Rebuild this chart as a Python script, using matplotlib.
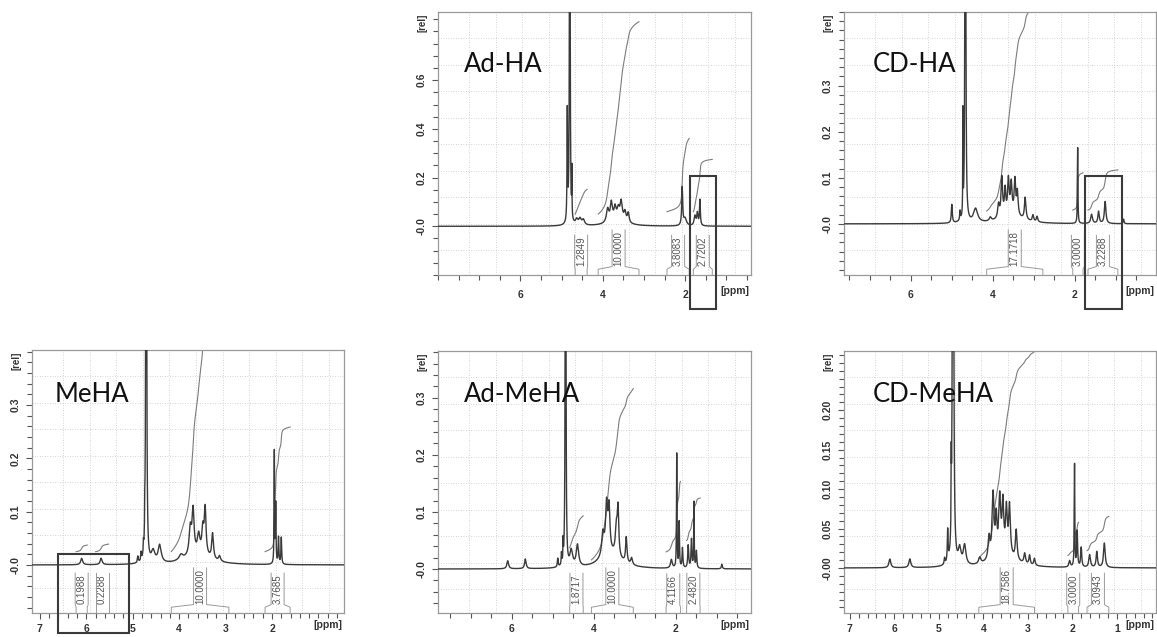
import numpy as np
import matplotlib
matplotlib.use("Agg")
import matplotlib.pyplot as plt
from matplotlib.ticker import FixedLocator, FixedFormatter, MultipleLocator
from matplotlib.patches import Rectangle
import matplotlib.transforms as mtransforms

# ---------------- data ----------------
# Ad-HA
adha_ppm = [4.80, 4.86, 4.75, 4.63, 4.55, 4.47, 3.88, 3.79, 3.70, 3.62, 3.55, 3.46, 3.38, 3.65, 2.07, 2.00, 1.76, 1.70, 1.64]
adha_height = [2.5, 0.45, 0.19, 0.022, 0.025, 0.022, 0.055, 0.075, 0.05, 0.045, 0.075, 0.04, 0.04, 0.022, 0.155, 0.03, 0.04, 0.05, 0.105]
adha_width = [0.008, 0.008, 0.004, 0.035, 0.035, 0.035, 0.035, 0.03, 0.03, 0.035, 0.03, 0.03, 0.025, 0.25, 0.014, 0.04, 0.025, 0.018, 0.012]
adha_int_labels = ["1.2849", "10.0000", "3.8083", "2.7202"]
adha_int_hi = [4.67, 4.11, 2.44, 1.80]
adha_int_lo = [4.38, 3.12, 1.90, 1.34]
adha_int_start = [0.05, 0.05, 0.06, 0.06]
adha_int_scale = 0.079
adha_xticks = [6, 4, 2]
adha_xticklabels = ["6", "4", "2"]
adha_yticks = [0.0, 0.2, 0.4, 0.6]
adha_yticklabels = ["-0.0", "0.2", "0.4", "0.6"]
adha_box = [1.88, 1.25, 0.205, -0.34]

# CD-HA
cdha_ppm = [5.00, 4.80, 4.73, 4.67, 4.42, 4.06, 3.86, 3.78, 3.70, 3.62, 3.55, 3.46, 3.40, 3.21, 3.02, 2.92, 3.55, 1.93, 1.59, 1.42, 1.26, 0.81]
cdha_height = [0.04, 0.02, 0.22, 2.0, 0.03, 0.008, 0.03, 0.085, 0.055, 0.075, 0.065, 0.075, 0.05, 0.048, 0.014, 0.012, 0.018, 0.165, 0.02, 0.026, 0.048, 0.01]
cdha_width = [0.014, 0.01, 0.004, 0.008, 0.06, 0.03, 0.025, 0.022, 0.02, 0.022, 0.022, 0.022, 0.02, 0.022, 0.02, 0.02, 0.3, 0.007, 0.025, 0.02, 0.022, 0.012]
cdha_int_labels = ["17.1718", "3.0000", "3.2288"]
cdha_int_hi = [4.15, 2.05, 1.68]
cdha_int_lo = [2.78, 1.80, 0.95]
cdha_int_start = [0.028, 0.03, 0.03]
cdha_int_scale = 0.027
cdha_xticks = [6, 4, 2]
cdha_xticklabels = ["6", "4", "2"]
cdha_yticks = [0.0, 0.1, 0.2, 0.3]
cdha_yticklabels = ["-0.0", "0.1", "0.2", "0.3"]
cdha_box = [1.76, 0.85, 0.104, -0.185]

# MeHA
meha_ppm = [6.10, 5.68, 4.89, 4.82, 4.77, 4.71, 4.74, 4.56, 4.42, 3.96, 3.76, 3.70, 3.58, 3.49, 3.44, 3.28, 3.13, 3.60, 1.95, 1.92, 1.86, 1.80]
meha_height = [0.012, 0.012, 0.012, 0.015, 0.02, 2.0, 0.05, 0.022, 0.033, 0.01, 0.05, 0.08, 0.033, 0.045, 0.085, 0.048, 0.01, 0.02, 0.21, 0.11, 0.05, 0.05]
meha_width = [0.025, 0.025, 0.012, 0.008, 0.006, 0.007, 0.004, 0.045, 0.04, 0.05, 0.03, 0.025, 0.03, 0.025, 0.022, 0.022, 0.025, 0.3, 0.006, 0.007, 0.009, 0.009]
meha_int_labels = ["0.1988", "0.2288", "10.0000", "3.7685"]
meha_int_hi = [6.22, 5.80, 4.17, 2.15]
meha_int_lo = [5.98, 5.52, 2.93, 1.61]
meha_int_start = [0.025, 0.025, 0.025, 0.025]
meha_int_scale = 0.062
meha_xticks = [7, 6, 5, 4, 3, 2]
meha_xticklabels = ["7", "6", "5", "4", "3", "2"]
meha_yticks = [0.0, 0.1, 0.2, 0.3]
meha_yticklabels = ["-0.0", "0.1", "0.2", "0.3"]
meha_box = [6.61, 5.07, 0.02, -0.128]

# Ad-MeHA
admeha_ppm = [6.10, 5.67, 4.88, 4.79, 4.69, 4.75, 4.55, 4.40, 3.78, 3.69, 3.63, 3.45, 3.41, 3.21, 3.08, 3.60, 2.11, 1.98, 1.92, 1.84, 1.70, 1.62, 1.56, 1.50, 0.88]
admeha_height = [0.014, 0.017, 0.015, 0.02, 2.0, 0.035, 0.028, 0.038, 0.04, 0.085, 0.075, 0.05, 0.078, 0.045, 0.012, 0.025, 0.015, 0.2, 0.08, 0.035, 0.04, 0.05, 0.115, 0.03, 0.008]
admeha_width = [0.025, 0.022, 0.012, 0.008, 0.006, 0.005, 0.04, 0.035, 0.035, 0.03, 0.025, 0.03, 0.02, 0.02, 0.025, 0.3, 0.025, 0.007, 0.009, 0.012, 0.014, 0.012, 0.007, 0.012, 0.014]
admeha_int_labels = ["1.8717", "10.0000", "4.1166", "2.4820"]
admeha_int_hi = [4.59, 4.06, 2.24, 1.74]
admeha_int_lo = [4.26, 3.04, 1.89, 1.41]
admeha_int_start = [0.037, 0.016, 0.03, 0.05]
admeha_int_scale = 0.03
admeha_xticks = [6, 4, 2]
admeha_xticklabels = ["6", "4", "2"]
admeha_yticks = [0.0, 0.1, 0.2, 0.3]
admeha_yticklabels = ["-0.0", "0.1", "0.2", "0.3"]

# CD-MeHA
cdmeha_ppm = [6.10, 5.65, 4.87, 4.80, 4.72, 4.68, 4.53, 4.42, 4.08, 3.87, 3.78, 3.71, 3.63, 3.56, 3.48, 3.41, 3.26, 3.07, 2.96, 2.85, 3.55, 2.06, 1.95, 1.89, 1.80, 1.61, 1.45, 1.28]
cdmeha_height = [0.011, 0.011, 0.008, 0.04, 0.08, 2.0, 0.02, 0.025, 0.008, 0.028, 0.08, 0.045, 0.07, 0.062, 0.056, 0.062, 0.038, 0.013, 0.012, 0.009, 0.016, 0.008, 0.13, 0.045, 0.025, 0.016, 0.02, 0.031]
cdmeha_width = [0.025, 0.025, 0.012, 0.01, 0.004, 0.008, 0.035, 0.035, 0.03, 0.025, 0.025, 0.02, 0.025, 0.022, 0.022, 0.022, 0.022, 0.022, 0.018, 0.018, 0.3, 0.02, 0.007, 0.011, 0.014, 0.022, 0.018, 0.022]
cdmeha_int_labels = ["18.7586", "3.0000", "3.0943"]
cdmeha_int_hi = [4.10, 2.10, 1.67]
cdmeha_int_lo = [2.85, 1.86, 1.18]
cdmeha_int_start = [0.012, 0.016, 0.022]
cdmeha_int_scale = 0.014
cdmeha_xticks = [7, 6, 5, 4, 3, 2, 1]
cdmeha_xticklabels = ["7", "6", "5", "4", "3", "2", "1"]
cdmeha_yticks = [0.0, 0.05, 0.10, 0.15, 0.20]
cdmeha_yticklabels = ["-0.00", "0.05", "0.10", "0.15", "0.20"]

titles = ["Ad-HA", "CD-HA", "MeHA", "Ad-MeHA", "CD-MeHA"]

# ---------------- layout (pixels) ----------------
W, H = 1157, 637
fig = plt.figure(figsize=(W / 100, H / 100), dpi=100)
fig.patch.set_facecolor("white")

panels = [
    dict(title=titles[0], ppm=adha_ppm, h=adha_height, w=adha_width,
         il=adha_int_labels, ihi=adha_int_hi, ilo=adha_int_lo, ist=adha_int_start, isc=adha_int_scale,
         xt=adha_xticks, xtl=adha_xticklabels, yt=adha_yticks, ytl=adha_yticklabels, box=adha_box,
         rect=(438, 12, 313, 263), xlim=(8.0, 0.4), ylim=(-0.2, 0.88), xminor=0.5, yminor=0.05, lpad=16),
    dict(title=titles[1], ppm=cdha_ppm, h=cdha_height, w=cdha_width,
         il=cdha_int_labels, ihi=cdha_int_hi, ilo=cdha_int_lo, ist=cdha_int_start, isc=cdha_int_scale,
         xt=cdha_xticks, xtl=cdha_xticklabels, yt=cdha_yticks, ytl=cdha_yticklabels, box=cdha_box,
         rect=(844, 12, 312, 263), xlim=(7.63, 0.02), ylim=(-0.111, 0.46), xminor=0.5, yminor=0.02, lpad=16),
    dict(title=titles[2], ppm=meha_ppm, h=meha_height, w=meha_width,
         il=meha_int_labels, ihi=meha_int_hi, ilo=meha_int_lo, ist=meha_int_start, isc=meha_int_scale,
         xt=meha_xticks, xtl=meha_xticklabels, yt=meha_yticks, ytl=meha_yticklabels, box=meha_box,
         rect=(32, 350, 312, 263), xlim=(7.17, 0.45), ylim=(-0.09, 0.403), xminor=0.2, yminor=0.02, lpad=12),
    dict(title=titles[3], ppm=admeha_ppm, h=admeha_height, w=admeha_width,
         il=admeha_int_labels, ihi=admeha_int_hi, ilo=admeha_int_lo, ist=admeha_int_start, isc=admeha_int_scale,
         xt=admeha_xticks, xtl=admeha_xticklabels, yt=admeha_yticks, ytl=admeha_yticklabels, box=None,
         rect=(438, 351, 313, 262), xlim=(7.8, 0.17), ylim=(-0.077, 0.382), xminor=0.5, yminor=0.02, lpad=12),
    dict(title=titles[4], ppm=cdmeha_ppm, h=cdmeha_height, w=cdmeha_width,
         il=cdmeha_int_labels, ihi=cdmeha_int_hi, ilo=cdmeha_int_lo, ist=cdmeha_int_start, isc=cdmeha_int_scale,
         xt=cdmeha_xticks, xtl=cdmeha_xticklabels, yt=cdmeha_yticks, ytl=cdmeha_yticklabels, box=None,
         rect=(844, 351, 312, 262), xlim=(7.13, 0.12), ylim=(-0.057, 0.275), xminor=0.2, yminor=0.01, lpad=12),
]

title_pos = [(0.083, 0.772), (0.093, 0.772), (0.074, 0.802), (0.083, 0.805), (0.093, 0.805)]

SPEC_C = "#3a3a3a"
INT_C = "#7c7c7c"
AX_C = "#999999"
TXT_C = "#333333"

label_items = []

for p, tpos in zip(panels, title_pos):
    x0, y0, wpx, hpx = p["rect"]
    ax = fig.add_axes([x0 / W, 1 - (y0 + hpx) / H, wpx / W, hpx / H])
    xl, xr = p["xlim"]
    ax.set_xlim(xl, xr)
    ax.set_ylim(*p["ylim"])

    # grid (dotted, fixed pixel spacing)
    for gx in np.arange(31, wpx, 26.6):
        ax.plot([gx / wpx] * 2, [0, 1], transform=ax.transAxes, ls=(0, (1, 2)), lw=0.6, color="#c8c8c8", zorder=0)
    for gy in np.arange(26, hpx, 26.5):
        ax.plot([0, 1], [1 - gy / hpx] * 2, transform=ax.transAxes, ls=(0, (1, 2)), lw=0.6, color="#c8c8c8", zorder=0)

    # spectrum from peak list
    x = np.linspace(xr, xl, 9000)
    y = np.zeros_like(x)
    for c, hh, g in zip(p["ppm"], p["h"], p["w"]):
        y += hh * g ** 2 / ((x - c) ** 2 + g ** 2)
    ax.plot(x, y, color=SPEC_C, lw=1.0, zorder=3)

    # integrals
    ppp = wpx / (xl - xr)
    wl = 6.5 / ppp
    btrans = mtransforms.blended_transform_factory(ax.transData, ax.transAxes)
    for lab, hi, lo, st in zip(p["il"], p["ihi"], p["ilo"], p["ist"]):
        m = (x >= lo) & (x <= hi)
        xs = x[m][::-1]
        ys = y[m][::-1]
        cum = np.cumsum(ys)
        cum = cum / cum[-1]
        ax.plot(xs, st + p["isc"] * float(lab) * cum, color=INT_C, lw=0.8, zorder=2)
        xc = 0.5 * (hi + lo)
        t = ax.text(xc, 0.035, lab, transform=btrans, rotation=90, ha="center", va="bottom",
                    fontsize=7, color="#555555", family="Liberation Sans", zorder=4)
        label_items.append((ax, t, xc, wl, hi, lo, btrans))

    # box highlight
    if p["box"] is not None:
        bh, bl, bt, bb = p["box"]
        ax.add_patch(Rectangle((bl, bb), bh - bl, bt - bb, fill=False, ec="#3a3a3a", lw=1.5,
                               clip_on=False, zorder=6))

    # ticks
    ax.xaxis.set_major_locator(FixedLocator(p["xt"]))
    ax.xaxis.set_major_formatter(FixedFormatter(p["xtl"]))
    ax.xaxis.set_minor_locator(MultipleLocator(p["xminor"]))
    ax.yaxis.set_major_locator(FixedLocator(p["yt"]))
    ax.yaxis.set_major_formatter(FixedFormatter(p["ytl"]))
    ax.yaxis.set_minor_locator(MultipleLocator(p["yminor"]))
    ax.tick_params(which="both", direction="out", color="#555555", width=0.8, top=False, right=False)
    ax.tick_params(which="major", length=4)
    ax.tick_params(which="minor", length=3.5)
    ax.tick_params(axis="x", pad=(p["lpad"] - 4 - 3) * 0.72, labelsize=7.5, labelcolor=TXT_C)
    ax.tick_params(axis="y", pad=4, labelsize=7.5, labelcolor=TXT_C)
    for lbl in ax.get_xticklabels():
        lbl.set_fontweight("bold")
        lbl.set_family("Liberation Sans")
    for lbl in ax.get_yticklabels():
        lbl.set_fontweight("bold")
        lbl.set_family("Liberation Sans")
        lbl.set_rotation(90)
        lbl.set_va("center")
    for sp in ax.spines.values():
        sp.set_color(AX_C)
        sp.set_linewidth(0.9)

    ax.annotate("[rel]", xy=(0, 1), xycoords="axes fraction", xytext=(-15, -11), textcoords="offset pixels",
                rotation=90, ha="center", va="center", fontsize=7, fontweight="bold", color=TXT_C,
                family="Liberation Sans")
    ax.annotate("[ppm]", xy=(1, 0), xycoords="axes fraction", xytext=(-16, -p["lpad"]), textcoords="offset pixels",
                ha="center", va="center", fontsize=7.5, fontweight="bold", color=TXT_C, family="Liberation Sans",
                annotation_clip=False)

    ax.text(tpos[0], tpos[1], p["title"], transform=ax.transAxes, fontsize=18.5, family="Lato",
            color="#111111", ha="left", va="baseline", zorder=5)

# bracket lines around integral labels
fig.canvas.draw()
renderer = fig.canvas.get_renderer()
for ax, t, xc, wl, hi, lo, btrans in label_items:
    bb = t.get_window_extent(renderer=renderer)
    top = ax.transAxes.inverted().transform((0, bb.y1 + 1))[1]
    yb, yb2 = 0.032, 0.022
    ax.plot([xc + wl, xc + wl, hi, hi], [top, yb, yb2, 0], transform=btrans, color="#9a9a9a", lw=0.7, zorder=4,
            clip_on=False)
    ax.plot([xc - wl, xc - wl, lo, lo], [top, yb, yb2, 0], transform=btrans, color="#9a9a9a", lw=0.7, zorder=4,
            clip_on=False)

fig.savefig("out.png", dpi=100, facecolor="white")
